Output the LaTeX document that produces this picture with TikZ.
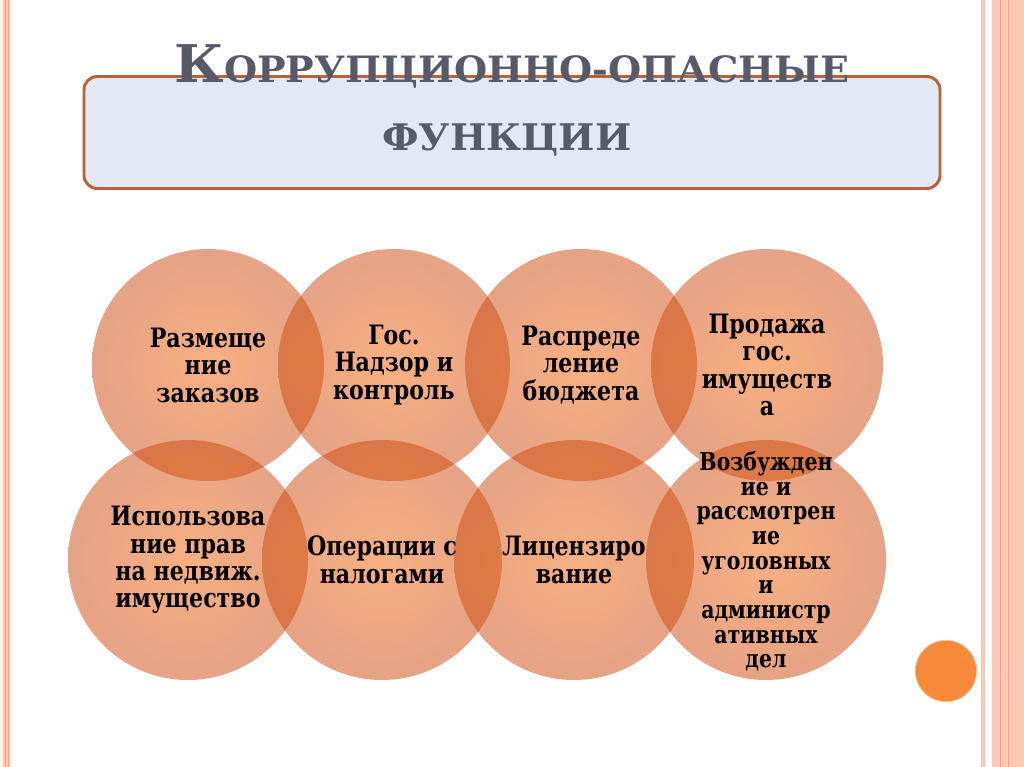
\documentclass[tikz,border=0pt]{standalone}
\usepackage{fontspec}
\setmainfont{DejaVu Serif}
\newfontfamily\ttlfont[FakeStretch=1.05]{DejaVu Serif}
\newfontfamily\lblfont[FakeStretch=0.83]{DejaVu Serif}
\usetikzlibrary{shadows}
\definecolor{bandc}{RGB}{252,200,180}
\definecolor{bandline}{RGB}{238,165,135}
\definecolor{palec}{RGB}{255,242,232}
\definecolor{boxfill}{RGB}{226,232,245}
\definecolor{boxdraw}{RGB}{180,100,55}
\definecolor{ttlc}{RGB}{85,91,104}
\definecolor{circin}{RGB}{242,98,5}
\definecolor{circout}{RGB}{205,72,12}
\definecolor{dotc}{RGB}{247,138,56}
\begin{document}
\begin{tikzpicture}[x=0.75pt,y=-0.75pt,
  circ/.style={circle, inner sep=0, draw=none, shading=radial, inner color=circin, outer color=circout, fill opacity=0.5},
  topc/.style={circ, minimum size=174pt},
  botc/.style={circ, minimum size=180pt},
  lbl/.style={align=center, font=\lblfont\bfseries\fontsize{20}{20.6}\selectfont, text=black, inner sep=0},
  lblsmall/.style={lbl, font=\lblfont\bfseries\fontsize{18.5}{18.5}\selectfont},
  band/.style={fill=bandc, draw=none},
  bline/.style={draw=bandline, line width=0.75pt}]
\useasboundingbox (0,0) rectangle (1024,767);
\fill[white] (0,0) rectangle (1024,767);
% side borders
\fill[palec] (0,0) rectangle (13,767);
\fill[band] (3,0) rectangle (10,767);
\draw[bline] (5,0) -- (5,767);
\draw[bline] (8,0) -- (8,767);
\fill[band] (981,0) rectangle (985,767);
\fill[band] (992,0) rectangle (1024,767);
\draw[bline] (1000,0) -- (1000,767);
\draw[bline] (1008,0) -- (1008,767);
% title box
\node (box) [rectangle, rounded corners=10pt, draw=boxdraw, line width=2.2pt, fill=boxfill,
  minimum width=642pt, minimum height=84pt, inner sep=0,
  drop shadow={shadow xshift=0.8pt, shadow yshift=-1.2pt, opacity=0.25}] at (512,132.5) {};
\node (ttl1) [anchor=base, text=ttlc, inner sep=0, font=\ttlfont\bfseries] at (512,83)
  {{\fontsize{39}{39}\selectfont К}{\fontsize{27.2}{27.2}\selectfont ОРРУПЦИОННО-ОПАСНЫЕ}};
\node (ttl2) [anchor=base, text=ttlc, inner sep=0, font=\ttlfont\bfseries\fontsize{27.5}{27.5}\selectfont] at (507,150) {ФУНКЦИИ};
% circles
\node (c1) [topc] at (208,365) {};
\node (c2) [topc] at (394,365) {};
\node (c3) [topc] at (581,365) {};
\node (c4) [topc] at (767,365) {};
\node (c5) [botc] at (188,560) {};
\node (c6) [botc] at (382,560) {};
\node (c7) [botc] at (574,560) {};
\node (c8) [botc] at (766,560) {};
% labels
\node (t1) [lbl] at (c1.center) {Размеще\\ние\\заказов};
\node (t2) [lbl] at (c2.center) {Гос.\\Надзор и\\контроль};
\node (t3) [lbl] at (c3.center) {Распреде\\ление\\бюджета};
\node (t4) [lbl] at (c4.center) {Продажа\\гос.\\имуществ\\а};
\node (t5) [lbl] at (c5.center) {Использова\\ние прав\\на недвиж.\\имущество};
\node (t6) [lbl] at (c6.center) {Операции с\\налогами};
\node (t7) [lbl] at (c7.center) {Лицензиро\\вание};
\node (t8) [lblsmall] at ([yshift=-1pt]c8.center) {Возбужден\\ие и\\рассмотрен\\ие\\уголовных\\и\\администр\\ативных\\дел};
% decorative dot
\node (dot) [circle, fill=dotc, draw=dotc!55!white, line width=0.6pt, minimum size=46pt, inner sep=0] at (946,671) {};
\end{tikzpicture}
\end{document}
